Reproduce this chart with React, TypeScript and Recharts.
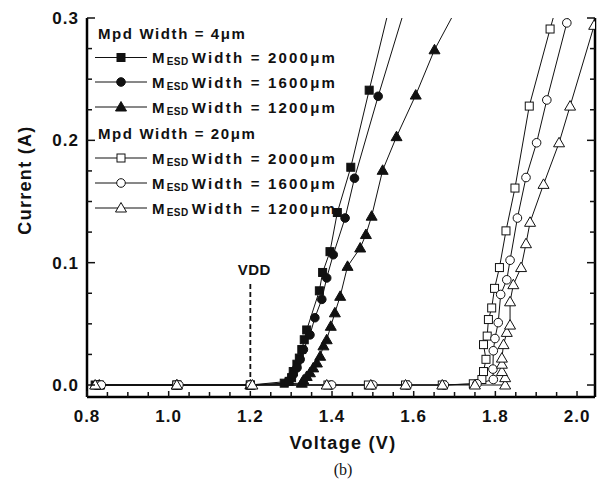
import React from 'react';
import { LineChart, Line, XAxis, YAxis, ReferenceLine } from 'recharts';

// ---------- data (Voltage V, Current A) ----------
const mpd4_2000: [number, number][] = [
  [0.82, 0], [1.02, 0], [1.2, 0], [1.283, 0.0015], [1.295, 0.003], [1.301, 0.006], [1.305, 0.011],
  [1.314, 0.017], [1.32, 0.022], [1.326, 0.029], [1.332, 0.037], [1.338, 0.045], [1.369, 0.077],
  [1.377, 0.092], [1.395, 0.109], [1.413, 0.141], [1.446, 0.178], [1.491, 0.241], [1.545, 0.315],
];
const mpd4_1600: [number, number][] = [
  [0.825, 0], [1.02, 0], [1.2, 0], [1.293, 0.003], [1.305, 0.0086], [1.314, 0.014], [1.322, 0.021],
  [1.33, 0.029], [1.346, 0.041], [1.358, 0.055], [1.375, 0.07], [1.387, 0.0875], [1.403, 0.1065],
  [1.432, 0.1365], [1.455, 0.169], [1.513, 0.236], [1.585, 0.315],
];
const mpd4_1200: [number, number][] = [
  [0.83, 0], [1.02, 0], [1.2, 0], [1.326, 0.0015], [1.33, 0.004], [1.338, 0.007], [1.346, 0.01],
  [1.354, 0.014], [1.363, 0.018], [1.371, 0.0235], [1.379, 0.032], [1.387, 0.037], [1.397, 0.048],
  [1.407, 0.059], [1.42, 0.0725], [1.438, 0.097], [1.469, 0.112], [1.483, 0.123], [1.497, 0.138],
  [1.524, 0.1755], [1.558, 0.203], [1.605, 0.237], [1.651, 0.274], [1.72, 0.317],
];
const mpd20_2000: [number, number][] = [
  [0.83, 0], [1.02, 0], [1.2, 0], [1.39, 0], [1.489, 0], [1.58, 0], [1.67, 0], [1.746, 0.001],
  [1.767, 0.0045], [1.771, 0.011], [1.777, 0.021], [1.771, 0.033], [1.78, 0.04], [1.783, 0.0535],
  [1.791, 0.063], [1.798, 0.079], [1.81, 0.096], [1.826, 0.126], [1.848, 0.161], [1.883, 0.228],
  [1.934, 0.291], [1.95, 0.31],
];
const mpd20_1600: [number, number][] = [
  [0.835, 0], [1.025, 0], [1.2, 0], [1.399, 0], [1.5, 0], [1.585, 0], [1.675, 0], [1.755, 0.001],
  [1.795, 0.0045], [1.794, 0.013], [1.795, 0.028], [1.799, 0.038], [1.807, 0.051], [1.813, 0.074],
  [1.828, 0.086], [1.836, 0.102], [1.854, 0.1365], [1.875, 0.1696], [1.901, 0.198], [1.926, 0.233],
  [1.975, 0.296], [1.985, 0.31],
];
const mpd20_1200: [number, number][] = [
  [0.82, 0], [1.02, 0], [1.205, 0], [1.387, 0], [1.495, 0], [1.58, 0], [1.67, 0], [1.75, 0],
  [1.824, 0], [1.824, 0.006], [1.816, 0.011], [1.816, 0.017], [1.816, 0.022], [1.82, 0.033],
  [1.828, 0.043], [1.836, 0.049], [1.836, 0.068], [1.844, 0.082], [1.863, 0.096], [1.875, 0.1155],
  [1.885, 0.133], [1.918, 0.164], [1.956, 0.198], [1.983, 0.228], [2.042, 0.294],
];

const xTicks = [0.8, 0.85, 0.9, 0.95, 1.0, 1.05, 1.1, 1.15, 1.2, 1.25, 1.3, 1.35, 1.4, 1.45, 1.5, 1.55, 1.6, 1.65, 1.7, 1.75, 1.8, 1.85, 1.9, 1.95, 2.0];
const yTicks = [0, 0.025, 0.05, 0.075, 0.1, 0.125, 0.15, 0.175, 0.2, 0.225, 0.25, 0.275, 0.3];
const xDomain: [number, number] = [0.8, 2.044];
const yDomain: [number, number] = [-0.0098, 0.3];
const vddVoltage = 1.2;
const vddTop = 0.083;

const groupTitles = ['Mpd Width = 4\u03bcm', 'Mpd Width = 20\u03bcm'];
const widthLabels = ['Width = 2000\u03bcm', 'Width = 1600\u03bcm', 'Width = 1200\u03bcm'];

type Shape = 'square' | 'circle' | 'triangle';
const seriesList: { name: string; data: [number, number][]; shape: Shape; filled: boolean }[] = [
  { name: 'm4_2000', data: mpd4_2000, shape: 'square', filled: true },
  { name: 'm4_1600', data: mpd4_1600, shape: 'circle', filled: true },
  { name: 'm4_1200', data: mpd4_1200, shape: 'triangle', filled: true },
  { name: 'm20_2000', data: mpd20_2000, shape: 'square', filled: false },
  { name: 'm20_1600', data: mpd20_1600, shape: 'circle', filled: false },
  { name: 'm20_1200', data: mpd20_1200, shape: 'triangle', filled: false },
];

const FONT = '"Liberation Sans", Arial, Helvetica, sans-serif';
const INK = '#111';

function marker(shape: Shape, filled: boolean, cx: number, cy: number, key?: any) {
  const fill = filled ? INK : '#fff';
  if (shape === 'square')
    return <rect key={key} x={cx - 4} y={cy - 4} width={8} height={8} fill={fill} stroke={INK} strokeWidth={1} />;
  if (shape === 'circle')
    return <circle key={key} cx={cx} cy={cy} r={4.3} fill={fill} stroke={INK} strokeWidth={1} />;
  return (
    <polygon key={key} points={`${cx},${cy - 5.5} ${cx - 5.5},${cy + 4} ${cx + 5.5},${cy + 4}`} fill={fill} stroke={INK} strokeWidth={1} />
  );
}

const makeDot = (shape: Shape, filled: boolean) => (props: any) => {
  const { cx, cy, payload, index } = props;
  if (cx == null || cy == null || !payload || payload.y > 0.3) return <g key={`d${index}`} />;
  return marker(shape, filled, cx, cy, `d${index}`);
};

const isXMajor = (v: number) => {
  const t = Math.round(v * 10);
  return Math.abs(v * 10 - t) < 1e-6 && t % 2 === 0;
};
const isYMajor = (v: number) => Math.abs(v * 10 - Math.round(v * 10)) < 1e-6;

const XTick = (props: any) => {
  const { x, y, payload } = props;
  const v = payload.value as number;
  const major = isXMajor(v);
  return (
    <g>
      <line x1={x} x2={x} y1={y} y2={y - (major ? 6 : 5)} stroke={INK} strokeWidth={1.5} />
      {major && (
        <text x={x} y={y + 25} textAnchor="middle" fontFamily={FONT} fontWeight="bold" fontSize={17} letterSpacing={1} fill={INK}>
          {v.toFixed(1)}
        </text>
      )}
    </g>
  );
};

const YTickLeft = (props: any) => {
  const { x, y, payload } = props;
  const v = payload.value as number;
  const major = isYMajor(v);
  return (
    <g>
      <line x1={x} x2={x + (major ? 8 : 5)} y1={y} y2={y} stroke={INK} strokeWidth={1.5} />
      {major && (
        <text x={x - 8} y={y + 6} textAnchor="end" fontFamily={FONT} fontWeight="bold" fontSize={17} letterSpacing={1} fill={INK}>
          {v.toFixed(1)}
        </text>
      )}
    </g>
  );
};

const YTickRight = (props: any) => {
  const { x, y, payload } = props;
  const v = payload.value as number;
  const major = isYMajor(v);
  return <line x1={x} x2={x - (major ? 8 : 5)} y1={y} y2={y} stroke={INK} strokeWidth={1.5} />;
};

const VddLabel = (props: any) => {
  const vb = props.viewBox || {};
  const x = (vb.x ?? 0) + (vb.width ?? 0) / 2;
  const y = vb.y ?? 0;
  return (
    <text x={x + 4} y={y - 8} textAnchor="middle" fontFamily={FONT} fontWeight="bold" fontSize={15} letterSpacing={0.5} fill={INK}>
      VDD
    </text>
  );
};

const legendRows = [
  { y: 57.5, shape: 'square' as Shape, filled: true, label: widthLabels[0] },
  { y: 82, shape: 'circle' as Shape, filled: true, label: widthLabels[1] },
  { y: 107, shape: 'triangle' as Shape, filled: true, label: widthLabels[2] },
  { y: 158, shape: 'square' as Shape, filled: false, label: widthLabels[0] },
  { y: 183, shape: 'circle' as Shape, filled: false, label: widthLabels[1] },
  { y: 208, shape: 'triangle' as Shape, filled: false, label: widthLabels[2] },
];

export default function App() {
  const axisLine = { stroke: '#000', strokeWidth: 2.5 };
  return (
    <div style={{ position: 'absolute', left: 0, top: 0, width: 600, height: 483, background: '#fff' }}>
      <LineChart width={600} height={483} margin={{ top: 18, right: 0, bottom: 0, left: 0 }}>
        <XAxis
          xAxisId="b"
          type="number"
          dataKey="x"
          domain={xDomain}
          ticks={xTicks}
          interval={0}
          allowDataOverflow
          height={86}
          tickLine={false}
          tickSize={0}
          tickMargin={0}
          axisLine={axisLine}
          tick={XTick}
        />
        <XAxis xAxisId="t" orientation="top" type="number" dataKey="x" domain={xDomain} allowDataOverflow height={0} tick={false} tickLine={false} axisLine={axisLine} />
        <YAxis
          yAxisId="l"
          type="number"
          domain={yDomain}
          ticks={yTicks}
          interval={0}
          allowDataOverflow
          width={87}
          tickLine={false}
          tickSize={0}
          tickMargin={0}
          axisLine={axisLine}
          tick={YTickLeft}
        />
        <YAxis
          yAxisId="r"
          orientation="right"
          type="number"
          domain={yDomain}
          ticks={yTicks}
          interval={0}
          allowDataOverflow
          width={5}
          tickLine={false}
          tickSize={0}
          tickMargin={0}
          axisLine={axisLine}
          tick={YTickRight}
        />
        <ReferenceLine
          xAxisId="b"
          yAxisId="l"
          segment={[{ x: vddVoltage, y: 0 }, { x: vddVoltage, y: vddTop }]}
          stroke={INK}
          strokeWidth={1.8}
          strokeDasharray="5 3"
          label={VddLabel}
        />
        {seriesList.map((s) => (
          <Line
            key={s.name}
            xAxisId="b"
            yAxisId="l"
            data={s.data.map(([x, y]) => ({ x, y }))}
            dataKey="y"
            type="linear"
            stroke={INK}
            strokeWidth={1}
            dot={makeDot(s.shape, s.filled)}
            activeDot={false}
            isAnimationActive={false}
          />
        ))}
      </LineChart>
      <svg width={600} height={483} style={{ position: 'absolute', left: 0, top: 0, pointerEvents: 'none' }}>
        <text x={98} y={38.5} fontFamily={FONT} fontWeight="bold" fontSize={15} letterSpacing={1.6} fill={INK}>
          {groupTitles[0]}
        </text>
        <text x={98} y={138.5} fontFamily={FONT} fontWeight="bold" fontSize={15} letterSpacing={1.6} fill={INK}>
          {groupTitles[1]}
        </text>
        {legendRows.map((r, i) => (
          <g key={i}>
            <line x1={95} x2={147} y1={r.y} y2={r.y} stroke={INK} strokeWidth={1} />
            {marker(r.shape, r.filled, 121, r.y)}
            <text x={152} y={r.y + 5.5} fontFamily={FONT} fontWeight="bold" fontSize={15} letterSpacing={2.2} fill={INK}>
              M
              <tspan fontSize={10} dy={2} letterSpacing={0.5}>ESD</tspan>
              <tspan dy={-2} dx={3}>{r.label}</tspan>
            </text>
          </g>
        ))}
        <text
          x={25}
          y={180}
          transform="rotate(-90 25 180)"
          textAnchor="middle"
          dominantBaseline="central"
          fontFamily={FONT}
          fontWeight="bold"
          fontSize={18}
          letterSpacing={1.3}
          fill={INK}
        >
          Current (A)
        </text>
        <text x={343} y={449} textAnchor="middle" fontFamily={FONT} fontWeight="bold" fontSize={18} letterSpacing={1.3} fill={INK}>
          Voltage (V)
        </text>
        <text x={343} y={475} textAnchor="middle" fontFamily='"Liberation Serif", "Times New Roman", serif' fontSize={16} fill={INK}>
          (b)
        </text>
      </svg>
    </div>
  );
}
